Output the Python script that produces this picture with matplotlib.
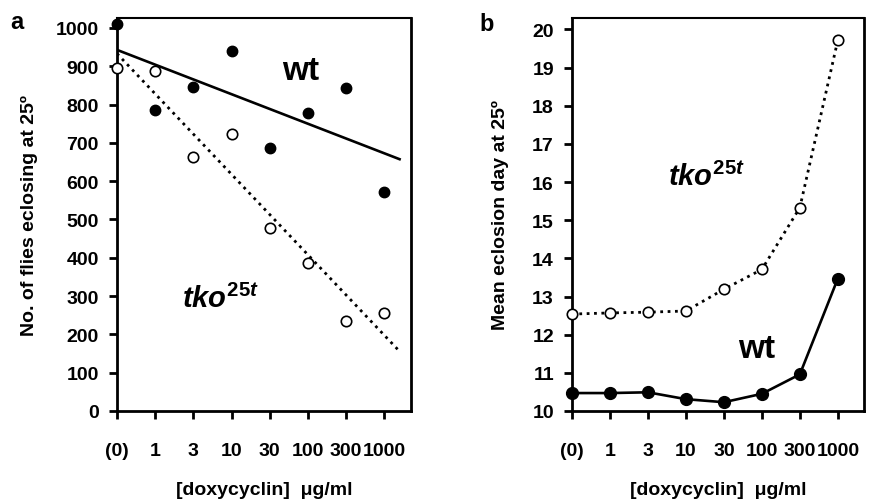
import numpy as np
import matplotlib
matplotlib.use("Agg")
import matplotlib.pyplot as plt

plt.rcParams['font.family'] = ['Liberation Sans', 'DejaVu Sans']
plt.rcParams['font.weight'] = 'bold'
plt.rcParams['mathtext.fontset'] = 'custom'
plt.rcParams['mathtext.it'] = 'Liberation Sans:italic:bold'
plt.rcParams['mathtext.rm'] = 'Liberation Sans:bold'
plt.rcParams['mathtext.bf'] = 'Liberation Sans:bold'

doses = ["(0)", "1", "3", "10", "30", "100", "300", "1000"]
x = np.arange(len(doses))

# panel a: number of flies eclosing
wt_count = [1010, 787, 845, 940, 687, 778, 843, 572]
tko_count = [895, 888, 663, 724, 477, 386, 235, 255]

# panel b: mean eclosion day
wt_day = [10.47, 10.47, 10.49, 10.31, 10.23, 10.45, 10.96, 13.47]
tko_day = [12.54, 12.57, 12.59, 12.62, 13.19, 13.71, 15.33, 19.72]

fig = plt.figure(figsize=(8.71, 5.02), dpi=100)
axa = fig.add_axes([0.1343, 0.1793, 0.3376, 0.7829])
axb = fig.add_axes([0.6567, 0.1793, 0.3353, 0.7829])

FS = 14


def style(ax):
    for s in ax.spines.values():
        s.set_linewidth(2.0)
    ax.spines['top'].set_linewidth(1.5)
    ax.tick_params(direction='out', length=6, width=2, labelsize=FS)
    ax.tick_params(axis='x', pad=16)
    ax.tick_params(axis='y', pad=7)
    ax.set_xticks(x)
    ax.set_xticklabels(doses)
    ax.set_xlabel("[doxycyclin]  \u03bcg/ml", fontsize=FS, fontweight='bold', labelpad=16)


# panel a
axa.plot(x, wt_count, 'o', color='black', ms=7.5, clip_on=False, zorder=3)
axa.plot(x, tko_count, 'o', mfc='white', mec='black', mew=1.2, ms=7.5, clip_on=False, zorder=3)
xf = np.array([0, 7.4])
k, b = np.polyfit(x, wt_count, 1)
axa.plot(xf, k * xf + b, '-', color='black', lw=1.9)
k, b = np.polyfit(x, tko_count, 1)
axa.plot(xf, k * xf + b, ':', color='black', lw=2.0)
axa.set_xlim(0, 7.7)
axa.set_ylim(0, 1026)
axa.set_yticks(np.arange(0, 1001, 100))
axa.set_ylabel("No. of flies eclosing at 25\u00ba", fontsize=FS, fontweight='bold', labelpad=13)
style(axa)
axa.text(4.8, 888, "wt", fontsize=24, fontweight='bold', ha='center', va='center')
axa.text(2.72, 295, r"$\mathit{tko}^{\mathit{25t}}$", fontsize=21, ha='center', va='center')

# panel b
axb.plot(x, tko_day, ':', color='black', lw=2.0, marker='o', mfc='white', mec='black',
         mew=1.2, ms=7.5, clip_on=False, zorder=3)
axb.plot(x, wt_day, '-', color='black', lw=1.9, marker='o', ms=8.5, clip_on=False, zorder=3)
axb.set_xlim(0, 7.69)
axb.set_ylim(10, 20.3)
axb.set_yticks(np.arange(10, 21, 1))
axb.set_ylabel("Mean eclosion day at 25\u00ba", fontsize=FS, fontweight='bold', labelpad=17)
style(axb)
axb.text(3.55, 16.15, r"$\mathit{tko}^{\mathit{25t}}$", fontsize=21, ha='center', va='center')
axb.text(4.87, 11.65, "wt", fontsize=24, fontweight='bold', ha='center', va='center')

fig.text(0.012, 0.955, "a", fontsize=17, fontweight='bold', ha='left', va='center')
fig.text(0.551, 0.952, "b", fontsize=17, fontweight='bold', ha='left', va='center')

fig.savefig("out.png", dpi=100)
